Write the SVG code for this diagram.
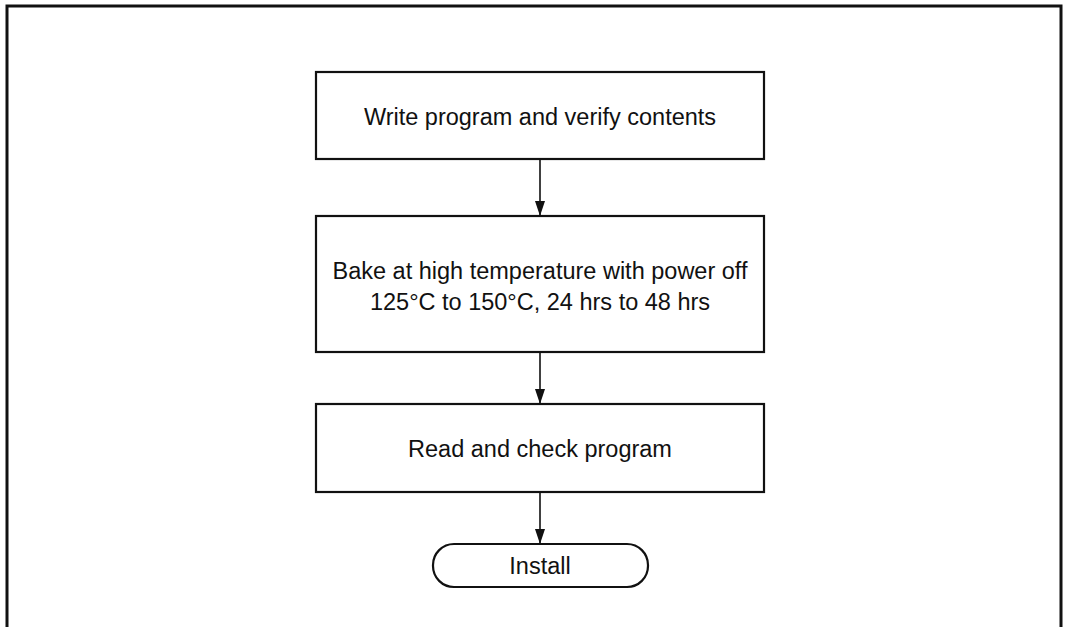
<svg xmlns="http://www.w3.org/2000/svg" width="1066" height="627" viewBox="0 0 1066 627">
<style>
.box{fill:#fff;stroke:#111;stroke-width:2.2}
.frame{fill:none;stroke:#111;stroke-width:3}
.lbl{font-family:"Liberation Sans",Arial,sans-serif;font-size:23.5px;fill:#111;text-anchor:middle}
.conn{stroke:#111;stroke-width:1.6;fill:none}
</style>
<defs>
<marker id="arr" markerWidth="15" markerHeight="10" refX="15" refY="5" viewBox="0 0 15 10" markerUnits="userSpaceOnUse" orient="auto">
<path d="M0,0 L15,5 L0,10 Z" fill="#111"/>
</marker>
</defs>
<rect width="1066" height="627" fill="#fff"/>
<path class="frame" d="M7,627 L7,6 L1061,6 L1061,627"/>
<g id="n1"><rect class="box" x="316" y="72" width="448" height="87"/><text class="lbl" x="540" y="125">Write program and verify contents</text></g>
<g id="n2"><rect class="box" x="316" y="216" width="448" height="136"/><text class="lbl" x="540" y="279">Bake at high temperature with power off</text><text class="lbl" x="540" y="310">125°C to 150°C, 24 hrs to 48 hrs</text></g>
<g id="n3"><rect class="box" x="316" y="404" width="448" height="88"/><text class="lbl" x="540" y="457">Read and check program</text></g>
<g id="n4"><rect class="box" x="433" y="544" width="215" height="43" rx="21" ry="21"/><text class="lbl" x="540" y="574">Install</text></g>
<g id="connectors">
<line class="conn" x1="540" y1="159" x2="540" y2="216" marker-end="url(#arr)"/>
<line class="conn" x1="540" y1="352" x2="540" y2="404" marker-end="url(#arr)"/>
<line class="conn" x1="540" y1="492" x2="540" y2="544" marker-end="url(#arr)"/>
</g>
</svg>
